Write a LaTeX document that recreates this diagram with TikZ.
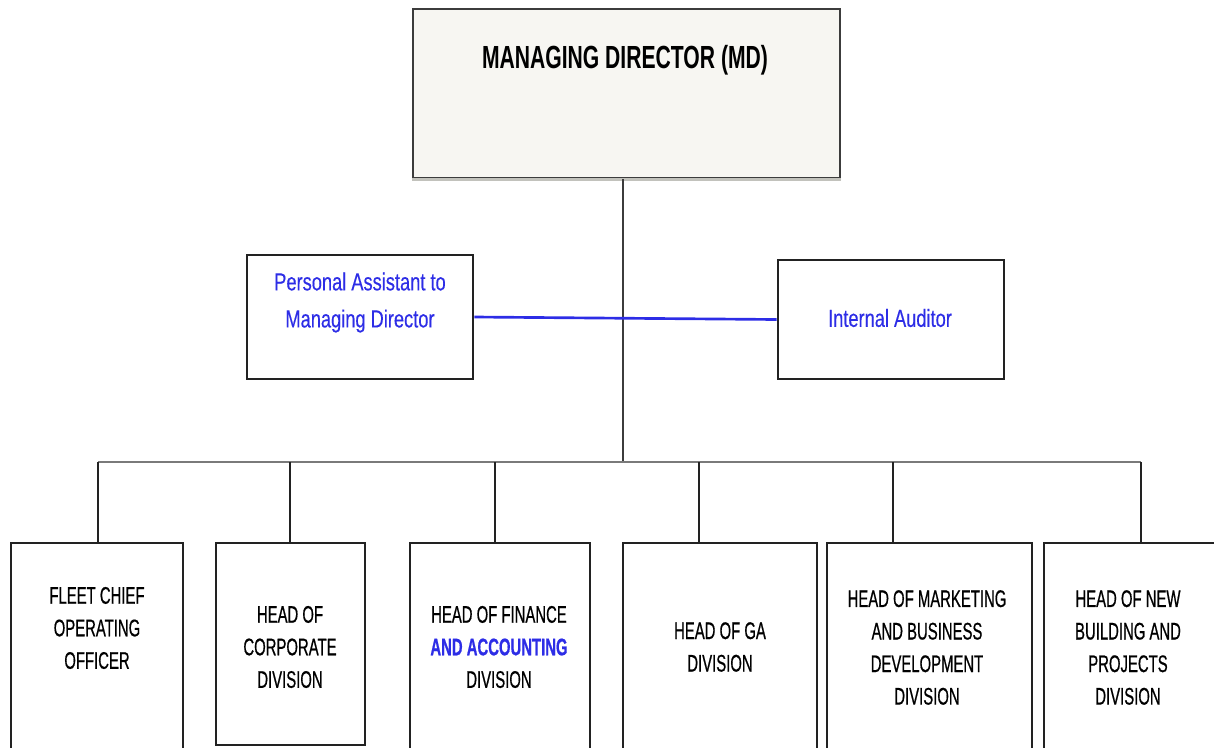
\documentclass[tikz,border=0pt]{standalone}
\usepackage{fontspec}
\usetikzlibrary{fit}
\newfontfamily\mdfont[FakeStretch=0.66]{Liberation Sans}
\newfontfamily\headfont[FakeStretch=0.62, FakeBold=0.6]{Liberation Sans}
\newfontfamily\staffont[FakeStretch=0.74, FakeBold=0.3]{Liberation Sans}
\definecolor{mdfill}{HTML}{F7F6F2}
\definecolor{mdedge}{HTML}{3C3C3C}
\definecolor{mdbase}{HTML}{C2C2BC}
\definecolor{boxedge}{HTML}{222222}
\definecolor{busgray}{HTML}{7A7A7A}
\definecolor{stafblue}{RGB}{45,45,230}
\tikzset{
  box/.style={draw=boxedge, line width=2.1pt, inner sep=0pt},
  mdbox/.style={draw=mdedge, fill=mdfill, line width=1.8pt, inner sep=0pt},
  headtext/.style={inner sep=0pt, align=center, text=black,
    font=\headfont\fontsize{18pt}{24.4pt}\selectfont},
  staftext/.style={inner sep=0pt, align=center, text=stafblue,
    font=\staffont\fontsize{18.5pt}{27.8pt}\selectfont},
  stem/.style={draw=boxedge, line width=1.6pt},
  bus/.style={draw=busgray, line width=2pt},
  trunk/.style={draw=mdedge, line width=1.9pt},
  stafline/.style={draw=stafblue, line width=2pt}
}
\begin{document}
\begin{tikzpicture}[x=0.75pt, y=-0.75pt]
\useasboundingbox (0,0) rectangle (1214,747);
\clip (0,0) rectangle (1214,747);

% managing director
\node[mdbox, fit={(413,9) (840,178)}] (md) {};
\draw[mdbase, line width=2.4pt] (md.south west) -- (md.south east);
\node[inner sep=0pt, font=\mdfont\bfseries\fontsize{24pt}{28pt}\selectfont] (mdt) at (625,60) {MANAGING DIRECTOR (MD)};

% staff positions
\node[box, fit={(247,255) (473,379)}] (pa) {};
\node[staftext] (pat) at (360,302.5) {Personal Assistant to\\Managing Director};
\node[box, fit={(778,260) (1004,379)}] (ia) {};
\node[staftext] (iat) at (890,318) {Internal Auditor};

% division heads
\node[box, fit={(11,543) (183,800)}] (d1) {};
\node[box, fit={(216,543) (365,745)}] (d2) {};
\node[box, fit={(410,543) (590,800)}] (d3) {};
\node[box, fit={(623,543) (817,800)}] (d4) {};
\node[box, fit={(827,543) (1032,800)}] (d5) {};
\node[box, fit={(1044,543) (1240,800)}] (d6) {};

\node[headtext] (t1) at (97,628) {FLEET CHIEF\\OPERATING\\OFFICER};
\node[headtext] (t2) at (290,647) {HEAD OF\\CORPORATE\\DIVISION};
\node[headtext] (t3) at (499,647) {HEAD OF FINANCE\\\textcolor{stafblue}{\bfseries AND ACCOUNTING}\\DIVISION};
\node[headtext] (t4) at (720,647) {HEAD OF GA\\DIVISION};
\node[headtext] (t5) at (927,647.5) {HEAD OF MARKETING\\AND BUSINESS\\DEVELOPMENT\\DIVISION};
\node[headtext] (t6) at (1128,647.5) {HEAD OF NEW\\BUILDING AND\\PROJECTS\\DIVISION};

% connectors
\coordinate (busl) at (98,462);
\coordinate (busr) at (1141,462);
\coordinate (busm) at (623,462);
\draw[trunk] (md.south -| busm) -- (busm);
\draw[stafline] (pa.east) -- (ia.west);
\draw[bus] (busl) -- (busr);
\draw[stem] (busl) -- (busl |- d1.north);
\draw[stem] (290,462) -- (290,543);
\draw[stem] (495,462) -- (495,543);
\draw[stem] (699,462) -- (699,543);
\draw[stem] (893,462) -- (893,543);
\draw[stem] (busr) -- (busr |- d6.north);
\end{tikzpicture}
\end{document}
